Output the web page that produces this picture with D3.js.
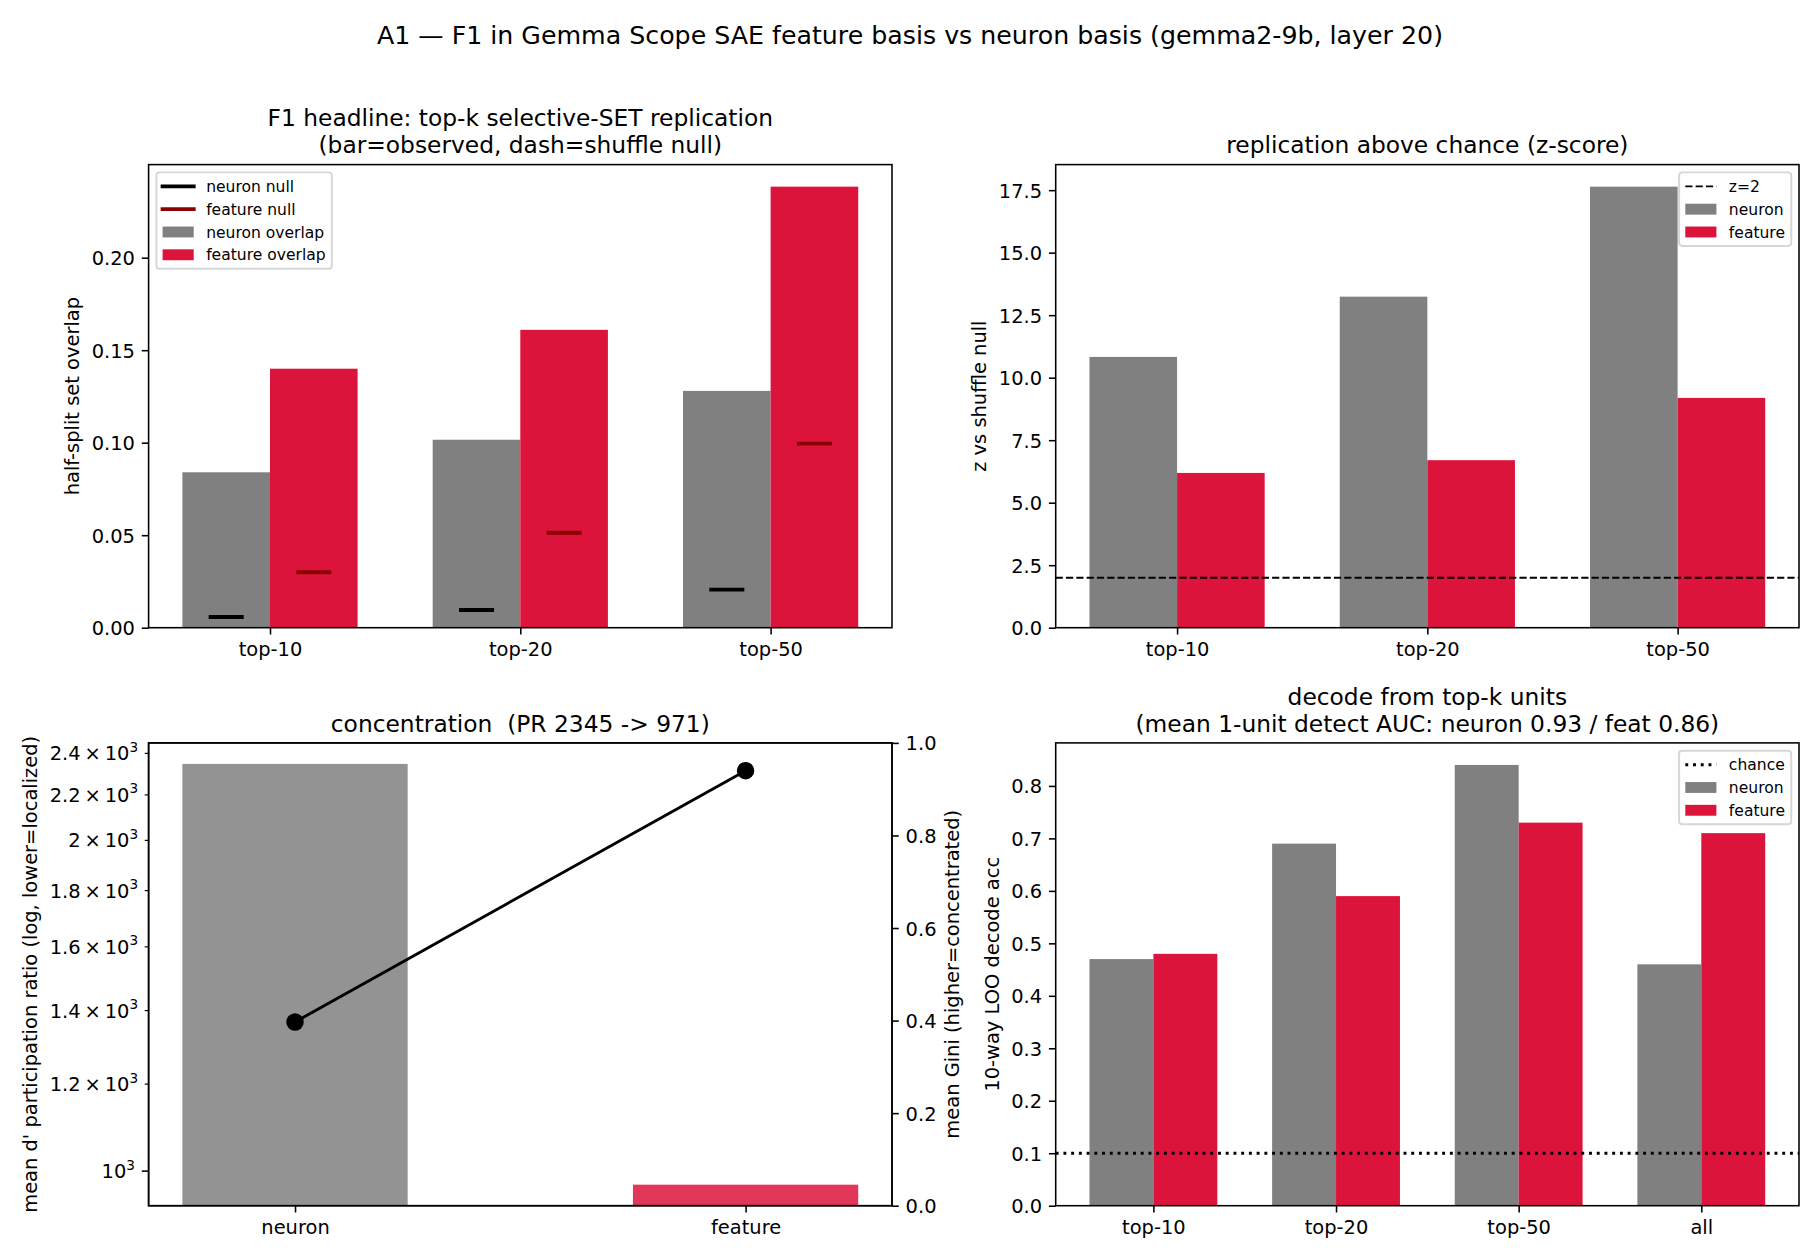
<!DOCTYPE html>
<html>
<head>
<meta charset="utf-8">
<script src="https://cdn.jsdelivr.net/npm/d3@7"></script>
<style>
  body { margin: 0; background: #fff; }
  svg text { font-family: "DejaVu Sans", sans-serif; fill: #000; }
</style>
</head>
<body>
<div id="container"></div>
<script>

// ---- data ----
let topkCats = ["top-10", "top-20", "top-50"];
let neuronOverlap = [0.084, 0.1016, 0.128];
let featureOverlap = [0.140, 0.161, 0.2384];
let neuronNull = [0.0058, 0.0096, 0.0206];
let featureNull = [0.030, 0.0513, 0.0995];

let neuronZ = [10.83, 13.24, 17.64];
let featureZ = [6.19, 6.70, 9.19];
let zThreshold = 2;

let basisCats = ["neuron", "feature"];
let participationRatio = [2345, 971];
let meanGini = [0.397, 0.940];

let decodeCats = ["top-10", "top-20", "top-50", "all"];
let neuronDecode = [0.47, 0.69, 0.84, 0.46];
let featureDecode = [0.48, 0.59, 0.73, 0.71];
let chanceLevel = 0.1;

// tick labels
let overlapTicks = [0, 0.05, 0.10, 0.15, 0.20];
let zTicks = [0, 2.5, 5, 7.5, 10, 12.5, 15, 17.5];
let prMajorTicks = [1000];
let prMinorTicks = [1200, 1400, 1600, 1800, 2000, 2200, 2400];
let giniTicks = [0, 0.2, 0.4, 0.6, 0.8, 1.0];
let decodeTicks = [0, 0.1, 0.2, 0.3, 0.4, 0.5, 0.6, 0.7, 0.8];

// ---- figure setup (13x9in at 140dpi) ----
const PT = 140 / 72;
const W = 1820, H = 1260;
const tickFs = 10 * PT, titleFs = 12 * PT, legendFs = 8 * PT;
const neuronColor = "gray", featureColor = "crimson", nullFeatureColor = "darkred";

let svg = d3.select("#container")
  .append("svg")
    .attr("width", W)
    .attr("height", H)
;
svg.append("rect").attr("width", W).attr("height", H).attr("fill", "#fff");

let boxes = {
  a: {x0: 148.6, x1: 892, y0: 164.6, y1: 627.7},
  b: {x0: 1055.7, x1: 1799, y0: 164.6, y1: 627.7},
  c: {x0: 148.6, x1: 892, y0: 742.9, y1: 1205.7},
  d: {x0: 1055.7, x1: 1799, y0: 742.9, y1: 1205.7}
};

svg.append("text")
  .attr("x", W / 2).attr("y", 44)
  .attr("text-anchor", "middle")
  .attr("font-size", 13 * PT)
  .text("A1 \u2014 F1 in Gemma Scope SAE feature basis vs neuron basis (gemma2-9b, layer 20)");

// x domain like matplotlib: bar extents plus 5% margin
function barDomain(n, half){
  let lo = -half, hi = n - 1 + half;
  let m = (hi - lo) * 0.05;
  return [lo - m, hi + m];
}

function styleAxis(ax, tickW){
  ax.attr("font-family", null).attr("font-size", tickFs);
  ax.select(".domain").remove();
  ax.selectAll("line").attr("stroke", "#000").attr("stroke-width", tickW || 0.8 * PT);
  ax.selectAll("text").attr("fill", "#000");
}

function leftAxis(g, box, scale, ticks, fmt){
  let ax = g.append("g")
    .attr("transform", "translate(" + box.x0 + ",0)")
    .call(d3.axisLeft(scale).tickValues(ticks).tickFormat(fmt).tickSize(3.5 * PT).tickPadding(3.5 * PT));
  styleAxis(ax);
  ax.selectAll("text").attr("dy", "0.36em");
  return ax;
}

function bottomAxis(g, box, scale, cats){
  let ax = g.append("g")
    .attr("transform", "translate(0," + box.y1 + ")")
    .call(d3.axisBottom(scale).tickValues(d3.range(cats.length)).tickFormat(function(i){ return cats[i]; })
      .tickSize(3.5 * PT).tickPadding(3.5 * PT));
  styleAxis(ax);
  ax.selectAll("text").attr("dy", "0.76em");
  return ax;
}

function yLabelLeft(g, box, ax, label){
  let bb = ax.node().getBBox();
  let x = box.x0 + bb.x - 4 * PT - 0.236 * tickFs;
  g.append("text")
    .attr("transform", "translate(" + x + "," + ((box.y0 + box.y1) / 2) + ") rotate(-90)")
    .attr("text-anchor", "middle")
    .attr("font-size", tickFs)
    .text(label);
}

function yLabelRight(g, box, ax, label){
  let bb = ax.node().getBBox();
  let x = box.x1 + bb.x + bb.width + 4 * PT + 0.76 * tickFs;
  g.append("text")
    .attr("transform", "translate(" + x + "," + ((box.y0 + box.y1) / 2) + ") rotate(-90)")
    .attr("text-anchor", "middle")
    .attr("font-size", tickFs)
    .text(label);
}

function title(g, box, lines){
  let cx = (box.x0 + box.x1) / 2;
  lines.forEach(function(l, i){
    g.append("text")
      .attr("x", cx)
      .attr("y", box.y0 - 11.2 - (lines.length - 1 - i) * 27)
      .attr("text-anchor", "middle")
      .attr("font-size", titleFs)
      .text(l);
  });
}

function spines(g, box){
  g.append("rect")
    .attr("x", box.x0).attr("y", box.y0)
    .attr("width", box.x1 - box.x0).attr("height", box.y1 - box.y0)
    .attr("fill", "none").attr("stroke", "#000").attr("stroke-width", 0.8 * PT);
}

function legend(g, box, items, corner){
  const rowH = 22.8, padV = 14, bpad = 0.4 * legendFs, hl = 2 * legendFs, htp = 0.8 * legendFs, bap = 0.5 * legendFs;
  let lg = g.append("g");
  let frame = lg.append("rect");
  let texts = items.map(function(it){
    return lg.append("text").attr("font-size", legendFs).text(it.label);
  });
  let maxW = d3.max(texts, function(t){ return t.node().getComputedTextLength(); });
  let bw = bpad + hl + htp + maxW + bpad;
  let bh = padV * 2 + rowH * (items.length - 1);
  let lx = corner == "left" ? box.x0 + bap : box.x1 - bap - bw;
  let ly = box.y0 + bap;
  frame.attr("x", lx).attr("y", ly).attr("width", bw).attr("height", bh)
    .attr("rx", 0.2 * legendFs)
    .attr("fill", "#fff").attr("fill-opacity", 0.8)
    .attr("stroke", "#ccc").attr("stroke-opacity", 0.8).attr("stroke-width", 1 * PT);
  items.forEach(function(it, i){
    let cy = ly + padV + i * rowH;
    let hx = lx + bpad;
    if (it.type == "patch"){
      lg.append("rect")
        .attr("x", hx).attr("y", cy - 0.35 * legendFs)
        .attr("width", hl).attr("height", 0.7 * legendFs)
        .attr("fill", it.color);
    } else {
      let ext = it.dash ? 0 : it.width / 2;
      lg.append("line")
        .attr("x1", hx - ext).attr("x2", hx + hl + ext)
        .attr("y1", cy).attr("y2", cy)
        .attr("stroke", it.color).attr("stroke-width", it.width)
        .attr("stroke-dasharray", it.dash || null);
    }
    texts[i].attr("x", hx + hl + htp).attr("y", cy + 5.7);
  });
}

// ---- panel A: set overlap ----
(function(){
  let box = boxes.a;
  let g = svg.append("g");
  let xScale = d3.scaleLinear().domain(barDomain(topkCats.length, 0.35)).range([box.x0, box.x1]);
  let yMax = d3.max(neuronOverlap.concat(featureOverlap));
  let yScale = d3.scaleLinear().domain([0, yMax * 1.05]).range([box.y1, box.y0]);
  let bw = 0.35;

  g.selectAll(".nbar").data(neuronOverlap).enter().append("rect")
    .attr("x", function(d, i){ return xScale(i - bw); })
    .attr("width", xScale(bw) - xScale(0))
    .attr("y", function(d){ return yScale(d); })
    .attr("height", function(d){ return yScale(0) - yScale(d); })
    .attr("fill", neuronColor);
  g.selectAll(".fbar").data(featureOverlap).enter().append("rect")
    .attr("x", function(d, i){ return xScale(i); })
    .attr("width", xScale(bw) - xScale(0))
    .attr("y", function(d){ return yScale(d); })
    .attr("height", function(d){ return yScale(0) - yScale(d); })
    .attr("fill", featureColor);

  // shuffle null dashes
  g.selectAll(".nnull").data(neuronNull).enter().append("line")
    .attr("x1", function(d, i){ return xScale(i - bw / 2 - 0.07); })
    .attr("x2", function(d, i){ return xScale(i - bw / 2 + 0.07); })
    .attr("y1", function(d){ return yScale(d); })
    .attr("y2", function(d){ return yScale(d); })
    .attr("stroke", "#000").attr("stroke-width", 2 * PT);
  g.selectAll(".fnull").data(featureNull).enter().append("line")
    .attr("x1", function(d, i){ return xScale(i + bw / 2 - 0.07); })
    .attr("x2", function(d, i){ return xScale(i + bw / 2 + 0.07); })
    .attr("y1", function(d){ return yScale(d); })
    .attr("y2", function(d){ return yScale(d); })
    .attr("stroke", nullFeatureColor).attr("stroke-width", 2 * PT);

  let yAx = leftAxis(g, box, yScale, overlapTicks, d3.format(".2f"));
  bottomAxis(g, box, xScale, topkCats);
  spines(g, box);
  yLabelLeft(g, box, yAx, "half-split set overlap");
  title(g, box, ["F1 headline: top-k selective-SET replication", "(bar=observed, dash=shuffle null)"]);
  legend(g, box, [
    {label: "neuron null", type: "line", color: "#000", width: 2 * PT},
    {label: "feature null", type: "line", color: nullFeatureColor, width: 2 * PT},
    {label: "neuron overlap", type: "patch", color: neuronColor},
    {label: "feature overlap", type: "patch", color: featureColor}
  ], "left");
})();

// grouped bar helper for panels B and D
function groupedBars(box, cats, nVals, fVals, ticks, fmt, refY, refDash, refW, refLabel, ylabel, titleLines){
  let g = svg.append("g");
  let xScale = d3.scaleLinear().domain(barDomain(cats.length, 0.35)).range([box.x0, box.x1]);
  let yMax = d3.max(nVals.concat(fVals));
  let yScale = d3.scaleLinear().domain([0, yMax * 1.05]).range([box.y1, box.y0]);
  let bw = 0.35;
  g.selectAll(".nbar").data(nVals).enter().append("rect")
    .attr("x", function(d, i){ return xScale(i - bw); })
    .attr("width", xScale(bw) - xScale(0))
    .attr("y", function(d){ return yScale(d); })
    .attr("height", function(d){ return yScale(0) - yScale(d); })
    .attr("fill", neuronColor);
  g.selectAll(".fbar").data(fVals).enter().append("rect")
    .attr("x", function(d, i){ return xScale(i); })
    .attr("width", xScale(bw) - xScale(0))
    .attr("y", function(d){ return yScale(d); })
    .attr("height", function(d){ return yScale(0) - yScale(d); })
    .attr("fill", featureColor);
  g.append("line")
    .attr("x1", box.x0).attr("x2", box.x1)
    .attr("y1", yScale(refY)).attr("y2", yScale(refY))
    .attr("stroke", "#000").attr("stroke-width", refW)
    .attr("stroke-dasharray", refDash);
  let yAx = leftAxis(g, box, yScale, ticks, fmt);
  bottomAxis(g, box, xScale, cats);
  spines(g, box);
  yLabelLeft(g, box, yAx, ylabel);
  title(g, box, titleLines);
  legend(g, box, [
    {label: refLabel, type: "line", color: "#000", width: refW, dash: refDash},
    {label: "neuron", type: "patch", color: neuronColor},
    {label: "feature", type: "patch", color: featureColor}
  ], "right");
}

// ---- panel B: z-scores ----
groupedBars(boxes.b, topkCats, neuronZ, featureZ, zTicks, d3.format(".1f"),
  zThreshold, (3.7 * PT) + "," + (1.6 * PT), 1 * PT, "z=2",
  "z vs shuffle null", ["replication above chance (z-score)"]);

// ---- panel C: concentration (log PR bars + Gini on twin axis) ----
(function(){
  let box = boxes.c;
  let g = svg.append("g");
  let xScale = d3.scaleLinear().domain(barDomain(basisCats.length, 0.25)).range([box.x0, box.x1]);
  let lmin = Math.log10(d3.min(participationRatio)), lmax = Math.log10(d3.max(participationRatio));
  let lm = (lmax - lmin) * 0.05;
  let yScale = d3.scaleLog().domain([Math.pow(10, lmin - lm), Math.pow(10, lmax + lm)]).range([box.y1, box.y0]);
  let gScale = d3.scaleLinear().domain([0, 1]).range([box.y1, box.y0]);
  let colors = [neuronColor, featureColor];

  g.selectAll(".prbar").data(participationRatio).enter().append("rect")
    .attr("x", function(d, i){ return xScale(i - 0.25); })
    .attr("width", xScale(0.5) - xScale(0))
    .attr("y", function(d){ return yScale(d); })
    .attr("height", function(d){ return box.y1 - yScale(d); })
    .attr("fill", function(d, i){ return colors[i]; })
    .attr("fill-opacity", 0.85);

  // left log axis: major + labelled minor ticks
  let yAx = g.append("g");
  let major = yAx.append("g").attr("transform", "translate(" + box.x0 + ",0)")
    .call(d3.axisLeft(yScale).tickValues(prMajorTicks).tickFormat("").tickSize(3.5 * PT).tickPadding(3.5 * PT));
  styleAxis(major);
  let minor = yAx.append("g").attr("transform", "translate(" + box.x0 + ",0)")
    .call(d3.axisLeft(yScale).tickValues(prMinorTicks).tickFormat("").tickSize(2 * PT).tickPadding(3.4 * PT));
  styleAxis(minor, 0.6 * PT);
  function sciLabel(sel){
    sel.each(function(d){
      let t = d3.select(this).attr("dy", "0.36em").text(null);
      let e = Math.floor(Math.log10(d) + 1e-9);
      let m = d / Math.pow(10, e);
      let base = Math.abs(m - 1) < 1e-9 ? "10" : (d3.format("~g")(+m.toFixed(2)) + "\u2009\u00d7\u200910");
      t.append("tspan").text(base);
      t.append("tspan").attr("font-size", 0.7 * tickFs).attr("dy", "-0.62em").text(e);
    });
  }
  major.selectAll(".tick text").call(sciLabel);
  minor.selectAll(".tick text").call(sciLabel);

  bottomAxis(g, box, xScale, basisCats);

  // twin axis: Gini
  let line = d3.line()
    .x(function(d, i){ return xScale(i); })
    .y(function(d){ return gScale(d); });
  g.append("path").datum(meanGini)
    .attr("d", line)
    .attr("fill", "none").attr("stroke", "#000").attr("stroke-width", 1.5 * PT);
  g.selectAll(".gdot").data(meanGini).enter().append("circle")
    .attr("cx", function(d, i){ return xScale(i); })
    .attr("cy", function(d){ return gScale(d); })
    .attr("r", 4.5 * PT)
    .attr("fill", "#000");

  let rAx = g.append("g")
    .attr("transform", "translate(" + box.x1 + ",0)")
    .call(d3.axisRight(gScale).tickValues(giniTicks).tickFormat(d3.format(".1f")).tickSize(3.5 * PT).tickPadding(3.5 * PT));
  styleAxis(rAx);
  rAx.selectAll("text").attr("dy", "0.36em");

  spines(g, box);
  spines(g, box);
  let bb = yAx.node().getBBox();
  let lx = bb.x - 4 * PT - 0.236 * tickFs;
  g.append("text")
    .attr("transform", "translate(" + lx + "," + ((box.y0 + box.y1) / 2) + ") rotate(-90)")
    .attr("text-anchor", "middle").attr("font-size", tickFs)
    .text("mean d' participation ratio (log, lower=localized)");
  yLabelRight(g, box, rAx, "mean Gini (higher=concentrated)");
  title(g, box, ["concentration\u00a0 (PR 2345 -> 971)"]);
})();

// ---- panel D: decoding ----
groupedBars(boxes.d, decodeCats, neuronDecode, featureDecode, decodeTicks, d3.format(".1f"),
  chanceLevel, (1 * 1.5 * PT) + "," + (1.65 * 1.5 * PT), 1.5 * PT, "chance",
  "10-way LOO decode acc",
  ["decode from top-k units", "(mean 1-unit detect AUC: neuron 0.93 / feat 0.86)"]);

</script>
</body>
</html>
